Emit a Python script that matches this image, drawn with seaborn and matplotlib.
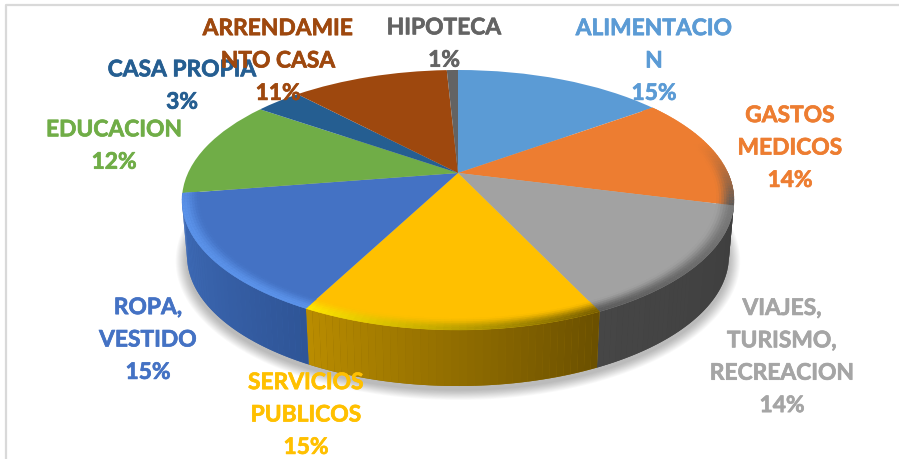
import numpy as np
import seaborn as sns
import matplotlib
matplotlib.use("Agg")
import matplotlib.pyplot as plt
import matplotlib.patheffects as pe
from matplotlib.collections import PolyCollection
from matplotlib.colors import to_rgb
from matplotlib.transforms import Transform

categories = ["ALIMENTACIO\nN", "GASTOS\nMEDICOS", "VIAJES,\nTURISMO,\nRECREACION",
              "SERVICIOS\nPUBLICOS", "ROPA,\nVESTIDO", "EDUCACION", "CASA PROPIA",
              "ARRENDAMIE\nNTO CASA", "HIPOTECA"]
# shown rounded to whole percent in the labels
percents = [15, 14, 14, 14.6, 14.9, 12.2, 3.3, 11.2, 0.8]
slice_colors = ["#5b9bd5", "#ed7d31", "#a2a2a2", "#ffc000", "#4472c4",
                "#70ad47", "#255e91", "#9e480e", "#636363"]
label_colors = ["#5b9bd5", "#ed7d31", "#a5a5a5", "#ffc000", "#4472c4",
                "#70ad47", "#255e91", "#9e480e", "#636363"]
# centre of each label in pixels of the picture
label_x = [654, 790, 782, 306, 148, 114, 182, 278, 444]
label_y = [62, 149, 358, 416, 341, 147, 87, 62, 45]

# side wall colours, from the left end of the slice to the right end
side_colors = {1: ("#505050", "#505050"), 2: ("#464646", "#3e3e3e"),
               3: ("#b98c00", "#6b5000"), 4: ("#416fbd", "#2f5597")}
# bevel colours along the front rim
rim_colors = {1: ("#5a5a5a", "#c06020"), 2: ("#5c5c5c", "#7a7a7a"),
              3: ("#ffe600", "#7a6000"), 4: ("#5b93ea", "#5b93ea")}


class PieView(Transform):
    # tilts the unit disc of the pie, near edge bigger than far edge
    input_dims = 2
    output_dims = 2
    is_separable = False
    has_inverse = False

    def __init__(self, width=270.0, height=124.4, tilt=0.2077, cx=458.0, cy=174.0):
        super().__init__()
        self.width, self.height, self.tilt, self.cx, self.cy = width, height, tilt, cx, cy

    def transform_non_affine(self, values):
        values = np.asarray(values, dtype=float)
        w = 1 + self.tilt * values[:, 1]
        return np.column_stack([self.cx + self.width * values[:, 0] / w,
                                self.cy - self.height * values[:, 1] / w])


def mix(a, b, t):
    return tuple(np.array(to_rgb(a)) * (1 - t) + np.array(to_rgb(b)) * t)


def arc(theta, r=1.0):
    t = np.radians(theta)
    return np.column_stack([r * np.cos(t), r * np.sin(t)])


sns.set_theme(style="white")
plt.rcParams["font.family"] = ["Lato", "DejaVu Sans"]

fig = plt.figure(figsize=(8.99, 4.6), dpi=100)
ax = fig.add_axes([0, 0, 1, 1])
wedges, _ = ax.pie(percents, colors=sns.color_palette(slice_colors), startangle=90,
                   counterclock=False, wedgeprops={"linewidth": 0})
ax.set_aspect("auto")
ax.set_xlim(0, 899)
ax.set_ylim(460, 0)

top_view = PieView()
bottom_view = PieView(width=265, cy=230)

# soft shadow under the pie
ring = np.linspace(0, 360, 181)
shadow = bottom_view.transform(arc(ring))
centre = shadow.mean(axis=0)
for grow in np.arange(1.07, 1.0, -0.006):
    pts = centre + (shadow - centre) * [1 + (grow - 1) * 0.6, grow] + [0, 4]
    ax.fill(pts[:, 0], pts[:, 1], color="#000000", alpha=0.022, lw=0, zorder=1)

# side wall of the front slices
for i, wedge in enumerate(wedges):
    if i not in side_colors:
        continue
    thetas = np.linspace(wedge.theta1, wedge.theta2, 41)
    thetas = thetas[np.sin(np.radians(thetas)) < 0.02]
    wall = np.vstack([top_view.transform(arc(thetas)), bottom_view.transform(arc(thetas))[::-1]])
    ax.fill(wall[:, 0], wall[:, 1], color=mix(*side_colors[i], 0.5), lw=0, zorder=2)
    polys, cols = [], []
    for j in range(len(thetas) - 1):
        seg = arc(thetas[j:j + 2])
        polys.append(np.vstack([top_view.transform(seg), bottom_view.transform(seg)[::-1]]))
        cols.append(mix(side_colors[i][0], side_colors[i][1], j / (len(thetas) - 2)))
    ax.add_collection(PolyCollection(polys, facecolors=cols, linewidths=0, zorder=2))

# top of the pie
for wedge in wedges:
    wedge.set_transform(top_view + ax.transData)
    wedge.set_zorder(3)
    wedge.set_clip_on(False)

# bevel on the front rim
radii = np.linspace(0.94, 1.0, 8)
for i, wedge in enumerate(wedges):
    if i not in rim_colors:
        continue
    thetas = np.linspace(wedge.theta1, wedge.theta2, 41)
    polys, cols = [], []
    for j in range(40):
        strength = np.clip((0.25 - np.sin(np.radians(thetas[j]))) / 0.5, 0, 1)
        rim = mix(rim_colors[i][0], rim_colors[i][1], j / 39)
        for k in range(7):
            inner = top_view.transform(arc(thetas[j:j + 2], radii[k]))
            outer = top_view.transform(arc(thetas[j:j + 2], radii[k + 1]))
            polys.append(np.vstack([inner, outer[::-1]]))
            cols.append(mix(slice_colors[i], rim, strength * np.sin(np.pi * 0.5 * (k + 1) / 7) ** 2))
    ax.add_collection(PolyCollection(polys, facecolors=cols, edgecolors=cols, linewidths=0.3, zorder=4))

# chart border, left and top only
ax.plot([6, 6, 899], [460, 6, 6], color="#d9d9d9", lw=1.6, zorder=0)

for name, pct, x, y, col in zip(categories, percents, label_x, label_y, label_colors):
    ax.text(x, y, f"{name}\n{pct:.0f}%", color=col, ha="center", va="center", fontsize=16.4,
            fontweight="bold", linespacing=1.67, zorder=5,
            path_effects=[pe.withStroke(linewidth=0.5, foreground=col)])

plt.savefig("out.png", dpi=100)
